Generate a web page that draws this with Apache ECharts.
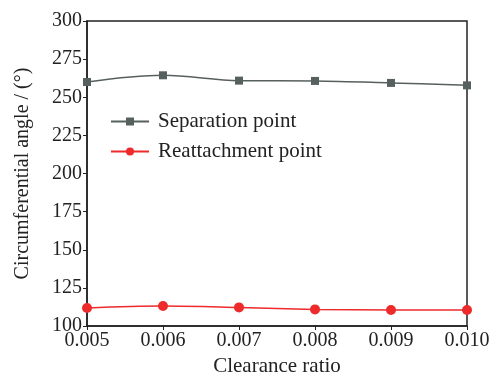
<!DOCTYPE html>
<html>
<head>
<meta charset="utf-8">
<script src="https://cdn.jsdelivr.net/npm/echarts@6/dist/echarts.min.js"></script>
<style>html,body{margin:0;padding:0;background:#fff}#c{width:490px;height:376px}</style>
</head>
<body>
<div id="c"></div>
<script>
const categories = ['0.005', '0.006', '0.007', '0.008', '0.009', '0.010'];
const separation = [260.0, 264.4, 260.9, 260.7, 259.4, 257.8];
const reattachment = [111.8, 113.1, 112.2, 110.9, 110.5, 110.5];
const yTicks = { min: 100, max: 300, interval: 25 };

const font = 'Liberation Serif, Times New Roman, serif';
const chart = echarts.init(document.getElementById('c'));
chart.setOption({
  animation: false,
  backgroundColor: '#fff',
  grid: { left: 87, right: 23, top: 21, bottom: 50, containLabel: false, outerBoundsMode: 'none', show: true, borderColor: '#222', borderWidth: 1.5, backgroundColor: 'transparent' },
  legend: {
    orient: 'vertical', left: 105, top: 106, itemGap: 9, itemWidth: 38, itemHeight: 10,
    textStyle: { fontFamily: font, fontSize: 21, color: '#222', padding: [0, 0, 0, 4] },
    data: ['Separation point', 'Reattachment point']
  },
  xAxis: {
    type: 'category', data: categories, boundaryGap: false,
    name: 'Clearance ratio', nameLocation: 'middle', nameGap: 28,
    nameTextStyle: { fontFamily: font, fontSize: 21, color: '#222' },
    axisLine: { lineStyle: { color: '#222', width: 1.5 } },
    axisTick: { show: true, inside: false, length: 4, lineStyle: { color: '#222' } },
    axisLabel: { fontFamily: font, fontSize: 20, color: '#222', margin: 5 },
    splitLine: { show: false }
  },
  yAxis: {
    type: 'value', min: yTicks.min, max: yTicks.max, interval: yTicks.interval,
    name: 'Circumferential angle / (°)', nameLocation: 'middle', nameGap: 54,
    nameTextStyle: { fontFamily: font, fontSize: 20, color: '#222' },
    axisLine: { show: true, lineStyle: { color: '#222', width: 1.5 } },
    axisTick: { show: true, inside: false, length: 4, lineStyle: { color: '#222' } },
    axisLabel: { fontFamily: font, fontSize: 20, color: '#222', margin: 5 },
    splitLine: { show: false }
  },
  series: [
    {
      name: 'Separation point', type: 'line', data: separation, smooth: 0.35,
      symbol: 'rect', symbolSize: 8,
      lineStyle: { color: '#56605e', width: 1.5 }, itemStyle: { color: '#56605e' }
    },
    {
      name: 'Reattachment point', type: 'line', data: reattachment, smooth: 0.35,
      symbol: 'circle', symbolSize: 10,
      lineStyle: { color: '#ee2a2a', width: 1.5 }, itemStyle: { color: '#ee2a2a' }
    }
  ]
});
</script>
</body>
</html>
